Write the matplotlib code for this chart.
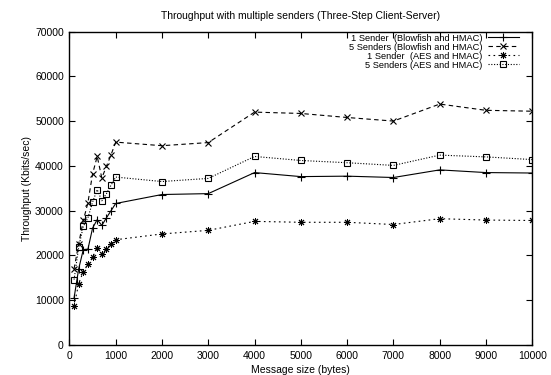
import matplotlib
matplotlib.use("Agg")
import matplotlib.pyplot as plt

plt.rcParams['font.family'] = ['Liberation Sans', 'DejaVu Sans']

# Tamaños de mensaje (bytes)
tamanos = [100, 200, 300, 400, 500, 600, 700, 800, 900, 1000,
           2000, 3000, 4000, 5000, 6000, 7000, 8000, 9000, 10000]

# Throughput (Kbits/sec)
uno_blowfish = [10500, 17000, 21300, 21400, 26100, 28000, 26700, 28400, 30000, 31600,
                33600, 33800, 38500, 37600, 37700, 37400, 39100, 38500, 38400]
cinco_blowfish = [17000, 22600, 27800, 31800, 38200, 42100, 37300, 39900, 42500, 45300,
                  44500, 45200, 52000, 51700, 50800, 50000, 53800, 52400, 52200]
uno_aes = [8700, 13700, 16400, 18000, 19600, 21700, 20400, 21500, 22600, 23500,
           24800, 25600, 27600, 27400, 27400, 26900, 28200, 27900, 27800]
cinco_aes = [14600, 21800, 26500, 28400, 31900, 34700, 32200, 33800, 35700, 37500,
             36500, 37200, 42100, 41200, 40700, 40100, 42400, 42000, 41400]

etiquetas = ["1 Sender  (Blowfish and HMAC)", "5 Senders (Blowfish and HMAC)",
             "1 Sender  (AES and HMAC)", "5 Senders (AES and HMAC)"]

fig = plt.figure(figsize=(5.51, 3.75), dpi=100)
ax = fig.add_axes([0.126, 0.08, 0.840, 0.836])

lw = 0.8
ax.plot(tamanos, uno_blowfish, color='black', lw=lw, linestyle='-',
        marker='+', markersize=6, markeredgewidth=0.8, label=etiquetas[0])
ax.plot(tamanos, cinco_blowfish, color='black', lw=lw, linestyle=(0, (4, 3)),
        marker='x', markersize=5, markeredgewidth=0.8, label=etiquetas[1])
ax.plot(tamanos, uno_aes, color='black', lw=lw, linestyle=(0, (1.5, 3)),
        marker=(8, 2, 0), markersize=5, markeredgewidth=0.7, label=etiquetas[2])
ax.plot(tamanos, cinco_aes, color='black', lw=lw, linestyle=(0, (1, 1.5)),
        marker='s', markersize=5, fillstyle='none', markeredgewidth=0.8, label=etiquetas[3])

ax.set_xlim(0, 10000)
ax.set_ylim(0, 70000)
ax.set_xticks(range(0, 10001, 1000))
ax.set_yticks(range(0, 70001, 10000))
ax.tick_params(direction='in', top=True, right=True, labelsize=7.5, length=4, width=0.8, pad=4)
for s in ax.spines.values():
    s.set_linewidth(1.0)

ax.set_title("Throughput with multiple senders (Three-Step Client-Server)", fontsize=7.5, pad=9)
ax.set_xlabel("Message size (bytes)", fontsize=7.5, labelpad=3)
ax.set_ylabel("Throughput (Kbits/sec)", fontsize=7.5, labelpad=2)

leg = ax.legend(loc='upper right', bbox_to_anchor=(1 - 13 / 462.8, 0.993),
                frameon=False, fontsize=6.7, markerfirst=False,
                handlelength=3.4, labelspacing=0.0, borderpad=0.0,
                borderaxespad=0.0, handletextpad=0.55)
for t in leg.get_texts():
    t.set_ha('right')
leg._legend_box.align = 'right'

fig.savefig("out.png", dpi=100)
